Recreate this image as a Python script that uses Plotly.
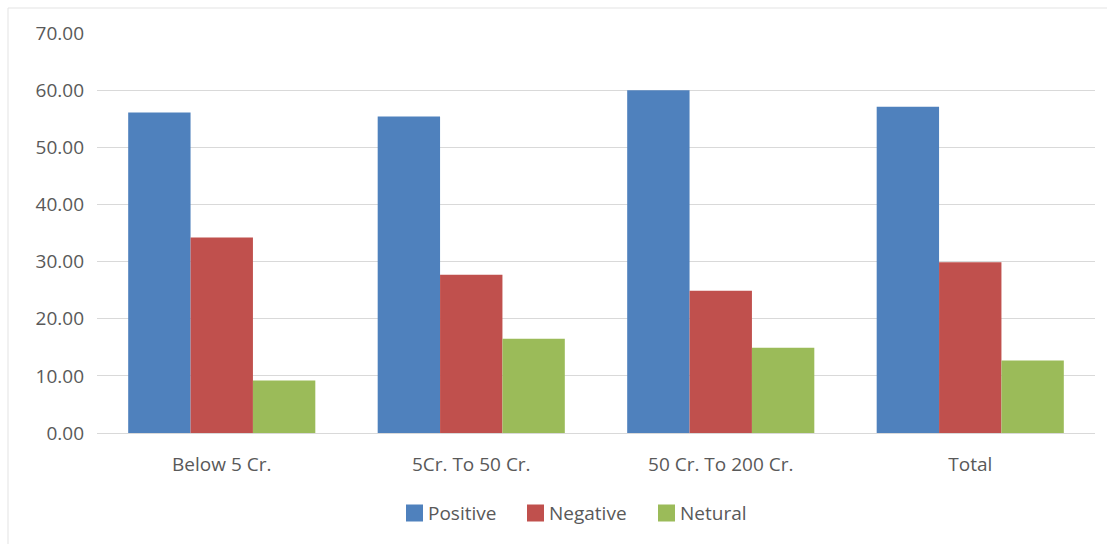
import plotly.graph_objects as go

categories = ["Below 5 Cr.", "5Cr. To 50 Cr.", "50 Cr. To 200 Cr.", "Total"]
positive = [56.1, 55.4, 60.0, 57.1]
negative = [34.2, 27.7, 24.9, 29.9]
netural = [9.2, 16.5, 14.9, 12.7]
y_ticks = [0, 10, 20, 30, 40, 50, 60, 70]

series_names = ["Positive", "Negative", "Netural"]
series_colors = ["#4F81BD", "#C0504D", "#9BBB59"]
series_values = [positive, negative, netural]

W, H = 1107, 544
L, R, T, B = 97, 12, 33, 111
PW, PH = W - L - R, H - T - B

FONT = "Open Sans, Noto Sans, sans-serif"
GREY = "#595959"

fig = go.Figure()
for name, vals, color in zip(series_names, series_values, series_colors):
    fig.add_trace(go.Bar(name=name, x=categories, y=vals, marker_color=color,
                         marker_line_width=0, showlegend=False))


def px_x(p):
    return (p - L) / PW


def px_y(p):
    return (H - B - p) / PH


# legend row drawn underneath the plot: coloured square + label
shapes = []
annotations = []
legend_x = [406, 527, 658]
sq = 17
cy = 513
for x0, name, color in zip(legend_x, series_names, series_colors):
    shapes.append(dict(type="rect", xref="paper", yref="paper",
                       x0=px_x(x0), x1=px_x(x0 + sq),
                       y0=px_y(cy + sq / 2), y1=px_y(cy - sq / 2),
                       line=dict(width=0), fillcolor=color))
    annotations.append(dict(text=name, xref="paper", yref="paper",
                            x=px_x(x0 + sq + 3), y=px_y(cy), xanchor="left",
                            yanchor="middle", showarrow=False,
                            font=dict(family=FONT, size=19, color=GREY)))

# light frame around the chart area
shapes.append(dict(type="rect", xref="paper", yref="paper",
                   x0=px_x(8), x1=px_x(W + 10), y0=px_y(H + 10), y1=px_y(8),
                   line=dict(color="#e3e3e3", width=1),
                   fillcolor="rgba(0,0,0,0)", layer="below"))

fig.update_layout(
    width=W, height=H, autosize=False,
    margin=dict(l=L, r=R, t=T, b=B),
    paper_bgcolor="white", plot_bgcolor="white",
    barmode="group", bargap=0.25, bargroupgap=0,
    font=dict(family=FONT, color=GREY, size=19),
    showlegend=False,
    xaxis=dict(showgrid=False, showline=True, linecolor="#d9d9d9", linewidth=1,
               ticks="", tickfont=dict(size=19, color=GREY), ticklabelstandoff=14),
    yaxis=dict(range=[0, 70], tickvals=y_ticks, tickformat=".2f",
               showgrid=True, gridcolor="#d9d9d9", gridwidth=1,
               zeroline=False, showline=False, ticks="",
               tickfont=dict(size=19, color=GREY), ticklabelstandoff=12),
    shapes=shapes,
    annotations=annotations,
)

fig.write_html("out.html")
